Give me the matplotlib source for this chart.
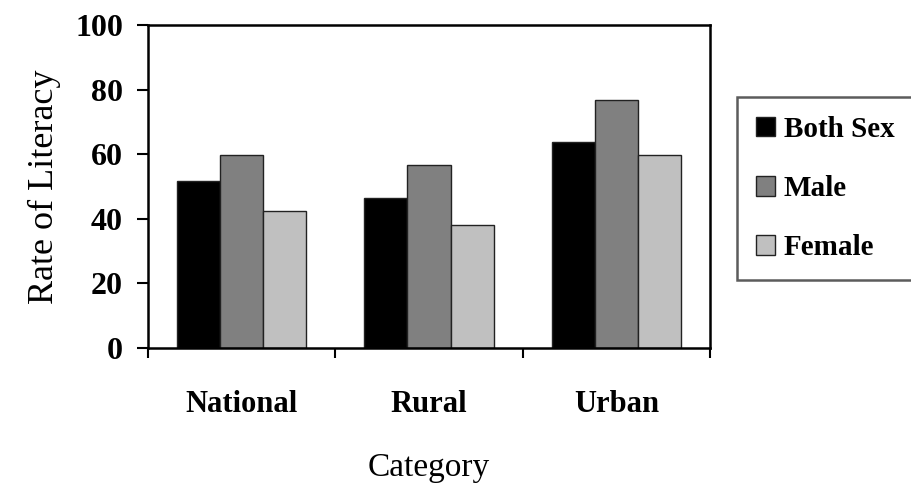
import matplotlib.pyplot as plt
import numpy as np

# 数据
categories = ["National", "Rural", "Urban"]
series_names = ["Both Sex", "Male", "Female"]
both_sex = [51.7, 46.3, 63.7]
male = [59.7, 56.7, 76.8]
female = [42.4, 38.0, 59.7]
colors = ["#000000", "#808080", "#c0c0c0"]

plt.rcParams['font.family'] = ['Liberation Serif', 'DejaVu Serif']

fig = plt.figure(figsize=(9.11, 4.84), dpi=100)
ax = fig.add_axes([148 / 911, 1 - 348 / 484, (710 - 148) / 911, (348 - 25) / 484])

x = np.arange(len(categories))
w = 0.23
for i, (vals, name) in enumerate(zip([both_sex, male, female], series_names)):
    ax.bar(x + (i - 1) * w, vals, width=w, color=colors[i], edgecolor="#222222",
           linewidth=1.0, label=name)

ax.set_xlim(-0.5, 2.5)
ax.set_ylim(0, 100)
ax.set_yticks(range(0, 101, 20))
ax.set_xticks(x)
ax.set_xticklabels(categories, fontweight='bold')
ax.set_yticklabels([str(v) for v in range(0, 101, 20)], fontweight='bold')
ax.set_xticks([-0.5, 0.5, 1.5, 2.5], minor=True)
ax.tick_params(axis='x', which='major', length=0, pad=30, labelsize=22)
ax.tick_params(axis='x', which='minor', length=7, width=1.5, direction='out')
ax.tick_params(axis='y', length=8, width=1.5, direction='out', labelsize=23, pad=10)
for s in ax.spines.values():
    s.set_linewidth(1.8)

ax.set_ylabel("Rate of Literacy", fontsize=26, labelpad=10)
ax.set_xlabel("Category", fontsize=24, labelpad=24)

leg = ax.legend(loc="upper left", bbox_to_anchor=(737 / 911, 1 - 97 / 484),
                bbox_transform=fig.transFigure, prop={'size': 21, 'weight': 'bold'},
                frameon=True, fancybox=False, edgecolor="#333333", handlelength=0.65,
                handleheight=0.65, handletextpad=0.3, labelspacing=1.1,
                borderpad=0.65, borderaxespad=0)
leg.get_frame().set_linewidth(1.8)

plt.savefig("out.png", dpi=100)
